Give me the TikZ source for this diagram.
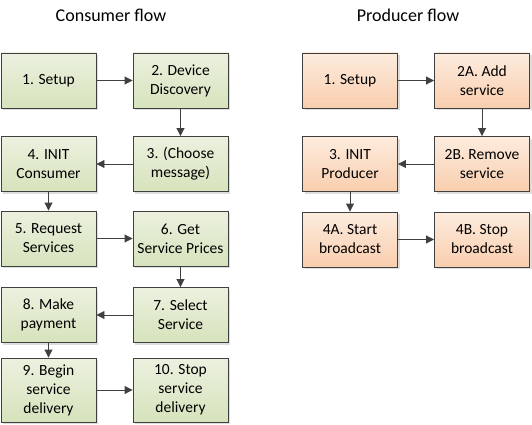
\documentclass[tikz,border=0pt]{standalone}
\usepackage{fontspec}
\setmainfont{Carlito}
\usepackage{tikz}
\usetikzlibrary{shadows,arrows.meta}
\usepackage{xcolor}
\definecolor{edgegray}{RGB}{64,64,64}
\definecolor{greentop}{RGB}{236,241,223}
\definecolor{greenbot}{RGB}{214,227,188}
\definecolor{orangetop}{RGB}{253,236,222}
\definecolor{orangebot}{RGB}{249,206,174}

\begin{document}
\begin{tikzpicture}[x=1pt, y=-1pt,
  stepbox/.style={draw=edgegray, line width=0.9pt, minimum width=95pt, minimum height=55pt,
    align=center, font=\fontsize{15.5}{19}\selectfont, inner sep=1pt,
    general shadow={fill=black!13, shadow xshift=2pt, shadow yshift=-2pt}},
  cons/.style={stepbox, top color=greentop, bottom color=greenbot},
  prod/.style={stepbox, top color=orangetop, bottom color=orangebot},
  flow/.style={draw=edgegray, line width=0.9pt, -{Triangle[length=8pt,width=8pt]}},
  heading/.style={font=\fontsize{18}{20}\selectfont}]
  \useasboundingbox (0,0) rectangle (532,425);
  \node[heading] (tc) at (111,15) {Consumer flow};
  \node[heading] (tp) at (408,15) {Producer flow};
  % consumer
  \node[cons] (c1) at (48.5,80.5) {1. Setup};
  \node[cons] (c2) at (180.5,80.5) {2. Device\\Discovery};
  \node[cons] (c3) at (180.5,164) {3. (Choose\\message)};
  \node[cons] (c4) at (48.5,164) {4. INIT\\Consumer};
  \node[cons] (c5) at (48.5,238.5) {5. Request\\Services};
  \node[cons] (c6) at (180.5,238.5) {6. Get\\Service Prices};
  \node[cons] (c7) at (180.5,315) {7. Select\\Service};
  \node[cons] (c8) at (48.5,315) {8. Make\\payment};
  \node[cons, minimum height=64pt] (c9) at (48.5,390) {9. Begin\\service\\delivery};
  \node[cons, minimum height=64pt] (c10) at (180.5,390) {10. Stop\\service\\delivery};
  \draw[flow] (c1) -- (c2);
  \draw[flow] (c2) -- (c3);
  \draw[flow] (c3) -- (c4);
  \draw[flow] (c4) -- (c5);
  \draw[flow] (c5) -- (c6);
  \draw[flow] (c6) -- (c7);
  \draw[flow] (c7) -- (c8);
  \draw[flow] (c8) -- (c9);
  \draw[flow] (c9) -- (c10);
  % producer
  \node[prod] (p1) at (350,80.5) {1. Setup};
  \node[prod] (p2a) at (482,80.5) {2A. Add\\service};
  \node[prod] (p2b) at (482,164) {2B. Remove\\service};
  \node[prod] (p3) at (350,164) {3. INIT\\Producer};
  \node[prod] (p4a) at (350,239.5) {4A. Start\\broadcast};
  \node[prod] (p4b) at (482,239.5) {4B. Stop\\broadcast};
  \draw[flow] (p1) -- (p2a);
  \draw[flow] (p2a) -- (p2b);
  \draw[flow] (p2b) -- (p3);
  \draw[flow] (p3) -- (p4a);
  \draw[flow] (p4a) -- (p4b);
\end{tikzpicture}
\end{document}
